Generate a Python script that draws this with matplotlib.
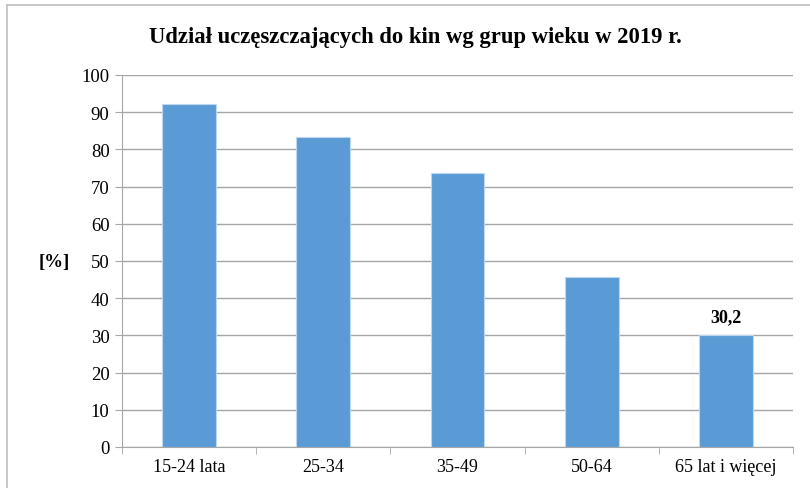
import matplotlib.pyplot as plt
from matplotlib.lines import Line2D

categories = ["15-24 lata", "25-34", "35-49", "50-64", "65 lat i więcej"]
values = [92.2, 83.2, 73.7, 45.8, 30.2]
labelled = {4: "30,2"}

plt.rcParams['font.family'] = ['Liberation Serif', 'DejaVu Serif']

fig = plt.figure(figsize=(8.1, 4.89), dpi=100)
ax = fig.add_axes([122 / 810, 41 / 489, 671 / 810, 372 / 489])

x = list(range(len(categories)))
ax.bar(x, values, width=0.4, color="#5B9BD5", edgecolor="#BDD7EE", linewidth=0.8, zorder=3)

ax.set_xlim(-0.5, len(categories) - 0.5)
ax.set_ylim(0, 100)
ax.set_yticks(range(0, 101, 10))
ax.yaxis.grid(True, color="#A6A6A6", linewidth=1, zorder=0)
ax.set_axisbelow(True)

ax.set_xticks(x)
ax.set_xticklabels(categories, fontsize=13)
ax.set_xticks([i + 0.5 for i in range(-1, len(categories))], minor=True)
ax.tick_params(axis='x', which='major', length=0, pad=8)
ax.tick_params(axis='x', which='minor', length=5, color="#A6A6A6", direction='out')
ax.tick_params(axis='y', length=5, color="#A6A6A6", labelsize=13.5, pad=4)

for s in ["top", "right"]:
    ax.spines[s].set_visible(False)
for s in ["left", "bottom"]:
    ax.spines[s].set_color("#A6A6A6")

for i, txt in labelled.items():
    ax.annotate(txt, (x[i], values[i]), xytext=(0, 7), textcoords="offset points",
                ha="center", va="bottom", fontsize=13, fontweight="bold")

fig.text(54 / 810, 1 - 263 / 489, "[%]", ha="center", va="center", fontsize=13.5, fontweight="bold")
fig.text(415 / 810, 1 - 38 / 489, "Udział uczęszczających do kin wg grup wieku w 2019 r.",
         ha="center", va="center", fontsize=16.3, fontweight="bold")

# ramka wykresu
fig.add_artist(Line2D([7 / 810, 7 / 810], [0, 1 - 6 / 489], color="#BFBFBF", linewidth=1.2))
fig.add_artist(Line2D([7 / 810, 1], [1 - 6 / 489, 1 - 6 / 489], color="#BFBFBF", linewidth=1.2))

fig.savefig("out.png", dpi=100)
